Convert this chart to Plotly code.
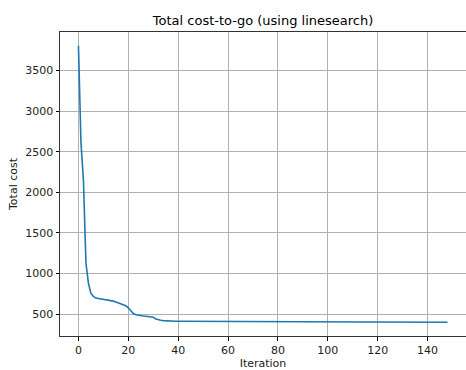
import plotly.graph_objects as go

iterations = list(range(149))
total_cost = [
    3805, 2620, 2150, 1130, 880, 755, 720, 698, 692, 688,
    683, 678, 672, 666, 660, 650, 640, 630, 618, 603,
    578, 540, 508, 492, 484, 480, 477, 474, 471, 468,
    462, 440, 430, 424, 420, 417, 415, 414, 413, 412.5,
    412.0, 411.8, 411.5, 411.2, 411.0, 410.8, 410.6, 410.4, 410.2, 410.0,
    409.8, 409.6, 409.4, 409.2, 409.0, 408.8, 408.6, 408.4, 408.2, 408.0,
    407.8, 407.6, 407.4, 407.2, 407.0, 406.9, 406.8, 406.7, 406.6, 406.5,
    406.4, 406.3, 406.2, 406.1, 406.0, 405.9, 405.8, 405.7, 405.6, 405.5,
    405.4, 405.3, 405.2, 405.1, 405.0, 404.9, 404.8, 404.7, 404.6, 404.5,
    404.4, 404.3, 404.2, 404.1, 404.0, 403.9, 403.8, 403.7, 403.6, 403.5,
    403.4, 403.3, 403.2, 403.1, 403.0, 402.95, 402.9, 402.85, 402.8, 402.75,
    402.7, 402.65, 402.6, 402.55, 402.5, 402.45, 402.4, 402.35, 402.3, 402.25,
    402.2, 402.15, 402.1, 402.05, 402.0, 401.95, 401.9, 401.85, 401.8, 401.75,
    401.7, 401.65, 401.6, 401.55, 401.5, 401.45, 401.4, 401.35, 401.3, 401.25,
    401.2, 401.15, 401.1, 401.05, 401.0, 401.0, 400.95, 400.9, 400.9,
]

x_ticks = [0, 20, 40, 60, 80, 100, 120, 140]
y_ticks = [500, 1000, 1500, 2000, 2500, 3000, 3500]

fig = go.Figure()
fig.add_trace(go.Scatter(
    x=iterations, y=total_cost, mode="lines",
    line=dict(color="#1f77b4", width=1.6),
    showlegend=False, hoverinfo="skip",
))

xmin, xmax = min(iterations), max(iterations)
ymin, ymax = min(total_cost), max(total_cost)
xpad = 0.05 * (xmax - xmin)
ypad = 0.05 * (ymax - ymin)

axis_common = dict(
    showline=True, linecolor="#333333", linewidth=1, mirror=True,
    showgrid=True, gridcolor="#b0b0b0", gridwidth=0.9,
    ticks="outside", ticklen=3.5, tickcolor="black", tickwidth=0.9,
    zeroline=False, automargin=False,
    tickfont=dict(family="DejaVu Sans", size=11, color="#222222"),
)

fig.update_layout(
    width=466, height=370,
    margin=dict(l=60, r=0, t=32, b=34, pad=0),
    paper_bgcolor="white", plot_bgcolor="white",
    title=dict(text="Total cost-to-go (using linesearch)",
               font=dict(family="DejaVu Sans", size=13, color="black"),
               x=0.5645, xanchor="center", y=0.946, yanchor="middle",
               automargin=False),
    xaxis=dict(range=[xmin - xpad, xmax + xpad], tickvals=x_ticks,
               title=dict(text="Iteration", standoff=1,
                          font=dict(family="DejaVu Sans", size=11, color="#222222")),
               **axis_common),
    yaxis=dict(range=[ymin - ypad, ymax + ypad], tickvals=y_ticks,
               title=dict(text="Total cost", standoff=5,
                          font=dict(family="DejaVu Sans", size=11, color="#222222")),
               **axis_common),
)

fig.write_html("out.html",
               config={"displayModeBar": False},
               post_script="document.body.style.margin='0';document.body.style.padding='0';")
